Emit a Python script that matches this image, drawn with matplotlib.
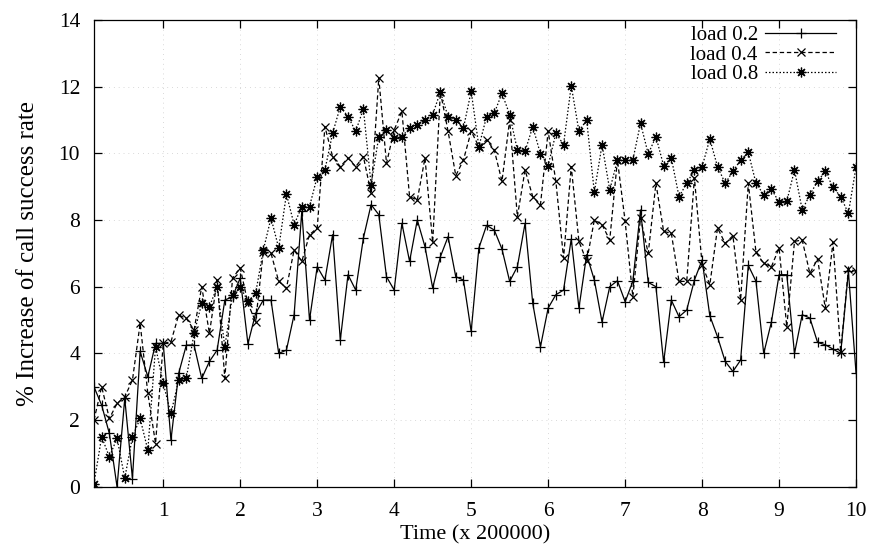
import numpy as np
import matplotlib
matplotlib.use("Agg")
import matplotlib.pyplot as plt

plt.rcParams['font.family'] = ['Liberation Serif', 'DejaVu Serif']

# Time axis (x 200000)
time = [round(0.1 * i, 1) for i in range(1, 101)]

load_02 = [3.0, 2.45, 1.6, 0.0, 2.65, 0.25, 4.06, 3.3, 4.3, 4.3,
           1.4, 3.4, 4.25, 4.25, 3.25, 3.76, 4.1, 5.6, 5.7, 6.26,
           4.29, 5.2, 5.6, 5.6, 4.0, 4.1, 5.16, 8.26, 5.0, 6.6,
           6.2, 7.56, 4.4, 6.36, 5.9, 7.46, 8.46, 8.16, 6.3, 5.9,
           7.9, 6.76, 8.0, 7.2, 5.96, 6.9, 7.5, 6.3, 6.2, 4.66,
           7.16, 7.84, 7.7, 7.13, 6.16, 6.6, 7.9, 5.5, 4.2, 5.36,
           5.76, 5.9, 7.43, 5.36, 6.96, 6.2, 4.94, 6.0, 6.18, 5.55,
           6.16, 8.3, 6.13, 6.0, 3.73, 5.6, 5.1, 5.3, 6.2, 6.8,
           5.13, 4.5, 3.76, 3.46, 3.8, 6.64, 6.16, 4.0, 4.94, 6.36,
           6.36, 4.0, 5.16, 5.06, 4.33, 4.26, 4.13, 4.0, 6.46, 3.4]

load_04 = [2.0, 3.0, 2.05, 2.5, 2.7, 3.2, 4.9, 2.8, 1.3, 4.3,
           4.35, 5.15, 5.05, 4.7, 6.0, 4.6, 6.2, 3.26, 6.26, 6.56,
           5.5, 4.95, 7.05, 7.0, 6.16, 5.96, 7.1, 6.76, 7.56, 7.76,
           10.8, 9.9, 9.6, 9.86, 9.6, 9.9, 8.8, 12.26, 9.7, 10.7,
           11.26, 8.7, 8.6, 9.86, 7.33, 11.84, 10.66, 9.33, 9.8, 10.66,
           10.2, 10.4, 10.1, 9.16, 11.0, 8.1, 9.5, 8.7, 8.46, 10.66,
           9.16, 6.86, 9.6, 7.36, 6.76, 8.0, 7.86, 7.4, 9.8, 7.96,
           5.7, 8.06, 7.0, 9.1, 7.66, 7.6, 6.16, 6.16, 9.26, 6.66,
           6.06, 7.76, 7.3, 7.53, 5.6, 9.1, 7.03, 6.7, 6.6, 7.16,
           4.8, 7.36, 7.4, 6.4, 6.83, 5.36, 7.33, 4.05, 6.53, 6.46]

load_08 = [0.1, 1.5, 0.9, 1.46, 0.26, 1.5, 2.05, 1.1, 4.2, 3.1,
           2.2, 3.2, 3.26, 4.6, 5.5, 5.4, 6.0, 4.2, 5.75, 6.0,
           5.56, 5.8, 7.1, 8.06, 7.16, 8.78, 7.86, 8.4, 8.4, 9.3,
           9.5, 10.6, 11.4, 11.1, 10.66, 11.33, 9.06, 10.5, 10.7, 10.46,
           10.5, 10.76, 10.86, 11.0, 11.16, 11.84, 11.1, 11.0, 10.76, 11.86,
           10.2, 11.1, 11.2, 11.8, 11.16, 10.1, 10.06, 10.8, 9.98, 9.63,
           10.6, 10.26, 12.03, 10.66, 11.0, 8.83, 10.26, 8.9, 9.8, 9.8,
           9.8, 10.9, 9.98, 10.5, 9.63, 9.86, 8.7, 9.1, 9.5, 9.6,
           10.43, 9.6, 9.1, 9.46, 9.8, 10.03, 9.1, 8.76, 8.93, 8.53,
           8.56, 9.5, 8.3, 8.76, 9.16, 9.46, 8.98, 8.7, 8.2, 9.6]

labels = ["load 0.2", "load 0.4", "load 0.8"]
x_ticks = list(range(1, 11))
y_ticks = list(range(0, 15, 2))

fig = plt.figure(figsize=(8.7, 5.52), dpi=100)
ax = fig.add_axes([0.108, 0.118, 0.876, 0.846])

ax.plot(time, load_02, color='black', lw=0.9, ls='-', marker='+',
        ms=7.5, mew=0.9, label=labels[0])
ax.plot(time, load_04, color='black', lw=0.9, ls=(0, (3.5, 2.2)), marker='x',
        ms=6, mew=0.9, label=labels[1])
ax.plot(time, load_08, color='black', lw=0.9, ls=(0, (1.2, 1.6)), marker=(8, 2, 0),
        ms=7, mew=0.9, label=labels[2])

ax.set_xlim(0.1, 10)
ax.set_ylim(0, 14)
ax.set_xticks(x_ticks)
ax.set_yticks(y_ticks)
ax.tick_params(direction='in', length=6, width=0.9, top=True, right=True,
               labelsize=15.5)
ax.tick_params(axis='x', pad=11)
ax.tick_params(axis='y', pad=10)
ax.grid(True, color='#b5b5b5', lw=0.5, ls=(0, (1, 6)))
for s in ax.spines.values():
    s.set_linewidth(0.9)

ax.set_xlabel("Time (x 200000)", fontsize=16, labelpad=3)
ax.set_ylabel("% Increase of call success rate", fontsize=18, labelpad=14)

leg = ax.legend(loc='upper right', bbox_to_anchor=(0.99, 1.015), frameon=False,
                markerfirst=False, fontsize=15, handlelength=3.4,
                handletextpad=0.35, labelspacing=0.0, borderaxespad=0.2,
                numpoints=1)

fig.savefig("out.png", dpi=100)
